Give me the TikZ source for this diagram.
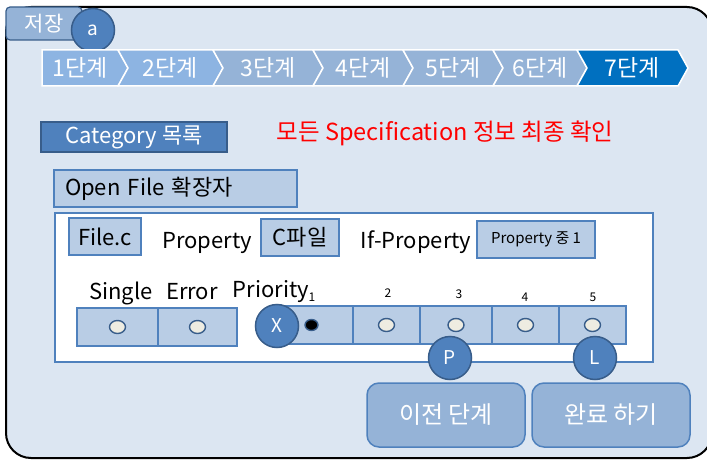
\documentclass[tikz,border=0pt]{standalone}
\usepackage{fontspec}
\setmainfont{Noto Sans CJK KR}
\usetikzlibrary{positioning,shapes.geometric}
\definecolor{frameFill}{HTML}{DCE6F2}
\definecolor{darkBlue}{HTML}{4F81BD}
\definecolor{borderBlue}{HTML}{385D8A}
\definecolor{lightBox}{HTML}{B9CDE5}
\definecolor{stepA}{HTML}{8DB4E2}
\definecolor{stepB}{HTML}{95B3D7}
\definecolor{stepC}{HTML}{0070C0}
\definecolor{radioFill}{HTML}{EEECE1}
\tikzset{
  badge/.style={circle, draw=borderBlue, fill=darkBlue, line width=1.5pt, minimum size=43pt,
    inner sep=0pt, text=white, font=\fontsize{19}{19}\selectfont},
  fieldbox/.style={draw=darkBlue, fill=lightBox, line width=1.5pt, inner sep=0pt, minimum height=37pt},
  cell/.style={draw=darkBlue, fill=lightBox, line width=1.2pt, minimum height=38pt, inner sep=0pt},
  radio/.style={ellipse, draw=borderBlue, fill=radioFill, line width=1.4pt, minimum width=16pt,
    minimum height=13pt, inner sep=0pt},
  button/.style={draw=darkBlue, fill=stepB, rounded corners=12pt, line width=1.5pt, minimum width=158pt,
    minimum height=64pt, text=white, font=\fontsize{24}{24}\selectfont},
  lbl/.style={font=\fontsize{22}{22}\selectfont, inner sep=0pt},
  num/.style={font=\fontsize{12}{12}\selectfont, inner sep=0pt},
}

\begin{document}
\begin{tikzpicture}[x=1pt,y=-1pt]
  \clip (0,0) rectangle (707,460);
  % frame
  \draw[rounded corners=25pt, fill=frameFill, line width=2pt] (6,7) rectangle (712,458);
  \node[draw=borderBlue, fill=stepB, rounded corners=4pt, line width=1.2pt, minimum width=76pt,
    minimum height=33pt, text=white, font=\fontsize{21}{21}\selectfont] (save) at (44,23.5) {저장};
  \node[badge] (ba) at (93,30) {a};
  % steps
  \foreach \l/\r/\dd/\col [count=\i] in {42/118/0/stepA, 118/213/10/stepA, 213/313/10/stepB,
      313/403/10/stepB, 403/493/10/stepB, 493/577/10/stepB, 577/678/10/stepC} {
    \draw[fill=\col, draw=white, line width=1.5pt] (\l,50) -- (\r,50) -- ++(10,18) -- (\r,86)
      -- (\l,86) -- ++(\dd,-18) -- cycle;
    \node[text=white, font=\fontsize{23}{23}\selectfont] (s\i) at ({(\l+\dd+\r)/2},68) {{\i}단계};
  }
  \node[draw=borderBlue, fill=darkBlue, line width=1.2pt, minimum width=186pt, minimum height=30pt,
    inner sep=0pt, text=white, font=\fontsize{22}{22}\selectfont] (cat) at (134,137) {Category 목록};
  \node[text=red, font=\fontsize{23.5}{23.5}\selectfont] (note) at (445,133) {모든 Specification 정보 최종 확인};
  \node[fieldbox, text width=221pt, inner xsep=11pt, align=left, font=\fontsize{22}{22}\selectfont]
    (ext) at (175.5,188.5) {Open File 확장자};
  % panel
  \draw[draw=darkBlue, fill=white, line width=1.5pt] (55,213) rectangle (653,362);
  \node[fieldbox, minimum width=72pt, lbl] (filec) at (105,236.5) {File.c};
  \node[lbl, anchor=base] (prop) at (207,248) {Property};
  \node[fieldbox, minimum width=78pt, lbl] (cfile) at (300,237.5) {C파일};
  \node[lbl, anchor=base] (ifprop) at (416,248) {If-Property};
  \node[fieldbox, minimum width=118pt, font=\fontsize{15}{15}\selectfont] (oneof) at (536,239.5) {Property 중 1};
  \node[lbl, anchor=base] (single) at (121,299) {Single};
  \node[lbl, anchor=base] (error) at (192,299) {Error};
  \node[lbl, anchor=base] (prio) at (271,297) {Priority};
  \node[cell, minimum width=81pt] (cs) at (117.5,327) {};
  \node[cell, minimum width=79pt] (ce) at (197.5,327) {};
  \node[radio] (rs) at (cs) {};
  \node[radio] (re) at (ce) {};
  \foreach \cx/\w/\n [count=\i] in {319.5/67/1, 386.5/67/2, 456/72/3, 525.5/67/4, 592.5/67/5} {
    \node[cell, minimum width=\w pt] (p\i) at (\cx,325) {};
  }
  \node[num] (n1) at (312,297) {1};
  \node[num] (n2) at (388,293) {2};
  \node[num] (n3) at (459,294) {3};
  \node[num] (n4) at (525,297) {4};
  \node[num] (n5) at (593,297) {5};
  \node[radio, fill=black, minimum width=13pt, minimum height=11pt] (r1) at ([xshift=-8pt]p1.center) {};
  \foreach \i in {2,...,5} {
    \node[radio] (r\i) at (p\i) {};
  }
  \node[badge] (bx) at (277,326) {X};
  \node[badge] (bp) at (450,358) {P};
  \node[badge] (bl) at (595,358) {L};
  % buttons
  \node[button] (prev) at (446,415) {이전 단계};
  \node[button] (done) at (611,415) {완료 하기};
\end{tikzpicture}
\end{document}
